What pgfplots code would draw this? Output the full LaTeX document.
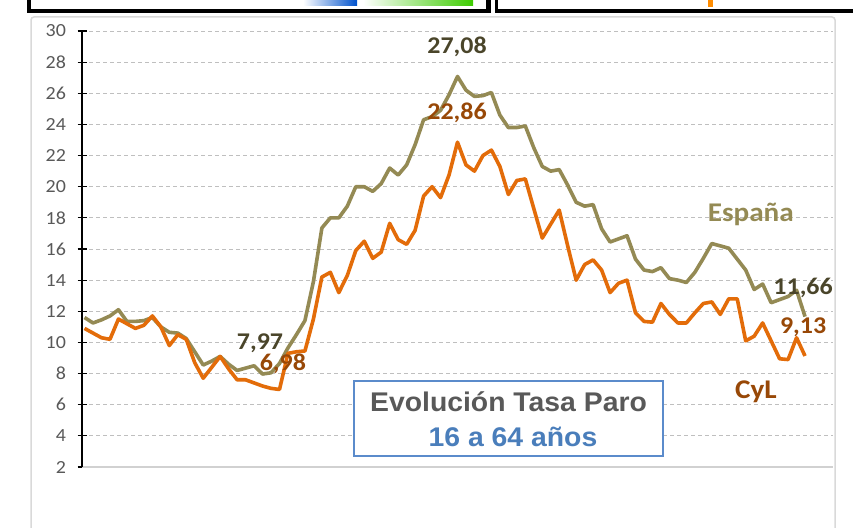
\documentclass[border=0pt]{standalone}
\usepackage{fontspec}
\setmainfont{Carlito}[FakeStretch=1.08]
\newfontfamily\arialf{Liberation Sans}[FakeStretch=1.05]
\usepackage{pgfplots}
\pgfplotsset{compat=1.18}
\definecolor{esp}{HTML}{948A54}
\definecolor{cyl}{HTML}{E36C09}
\definecolor{espdark}{HTML}{4A452A}
\definecolor{cyldark}{HTML}{984807}
\definecolor{ticktxt}{HTML}{595959}
\definecolor{gridc}{HTML}{BFBFBF}
\definecolor{boxblue}{HTML}{5B8BCB}
\definecolor{titleblue}{HTML}{4A7EBB}
\begin{document}
\begin{tikzpicture}[x=1pt,y=1pt]
\useasboundingbox (0,0) rectangle (853,527);
\fill[white] (0,0) rectangle (853,527);
% decorative pieces of neighbouring frames at the top
\shade[left color=white, right color=blue!60!cyan!80!black] (303,521) rectangle (357,527);
\shade[left color=white, right color=green!60!lime!80!black] (363,521) rectangle (473,527);
\fill[orange!90!yellow] (708,520) rectangle (713,527);
\fill[black] (27,514) rectangle (491,517.5);
\fill[black] (27,514) rectangle (30.5,527);
\fill[black] (486,514) rectangle (491,527);
\fill[black] (495,514) rectangle (853,517.5);
\fill[black] (495,514) rectangle (498,527);
% chart frame
\draw[black!15, line width=1.5pt, rounded corners=3pt] (31,-10) rectangle (835,510);
\begin{axis}[
  at={(82pt,60pt)}, anchor=south west, scale only axis,
  width=751pt, height=436pt,
  xmin=-0.3, xmax=88.3, ymin=2, ymax=30,
  ytick={2,4,...,30}, xtick=\empty,
  axis x line*=bottom, axis y line*=left,
  x axis line style={black!18, line width=1.2pt},
  y axis line style={black, line width=1.2pt},
  major tick length=9pt, tick align=center,
  tick style={black, line width=1.2pt},
  ymajorgrids,
  major grid style={dash pattern=on 4pt off 3pt, gridc, line width=0.9pt},
  /pgf/number format/assume math mode=true,
  yticklabel style={font=\fontsize{18.5}{18.5}\selectfont, text=ticktxt, xshift=-8pt},
  clip=false,
]
\addplot[esp, line width=3.6pt, line join=round] coordinates {
(0,11.6)(1,11.25)(2,11.45)(3,11.7)(4,12.1)(5,11.35)(6,11.35)(7,11.4)(8,11.6)(9,11.0)
(10,10.65)(11,10.6)(12,10.25)(13,9.4)(14,8.55)(15,8.8)(16,9.1)(17,8.6)(18,8.2)(19,8.35)
(20,8.5)(21,7.97)(22,8.05)(23,8.65)(24,9.65)(25,10.5)(26,11.4)(27,13.9)(28,17.35)(29,18.0)
(30,18.0)(31,18.75)(32,20.0)(33,20.0)(34,19.7)(35,20.2)(36,21.2)(37,20.75)(38,21.4)(39,22.7)
(40,24.3)(41,24.5)(42,24.9)(43,25.9)(44,27.08)(45,26.2)(46,25.8)(47,25.85)(48,26.05)(49,24.6)
(50,23.8)(51,23.8)(52,23.9)(53,22.5)(54,21.3)(55,21.0)(56,21.1)(57,20.1)(58,19.0)(59,18.75)
(60,18.85)(61,17.3)(62,16.45)(63,16.65)(64,16.85)(65,15.35)(66,14.65)(67,14.55)(68,14.8)(69,14.1)
(70,14.0)(71,13.85)(72,14.5)(73,15.4)(74,16.35)(75,16.2)(76,16.05)(77,15.35)(78,14.65)(79,13.4)
(80,13.75)(81,12.55)(82,12.75)(83,12.95)(84,13.35)(85,11.66)
};
\addplot[cyl, line width=3.6pt, line join=round] coordinates {
(0,10.9)(1,10.6)(2,10.3)(3,10.2)(4,11.5)(5,11.2)(6,10.9)(7,11.1)(8,11.7)(9,11.0)
(10,9.8)(11,10.5)(12,10.2)(13,8.7)(14,7.7)(15,8.4)(16,9.1)(17,8.3)(18,7.6)(19,7.6)
(20,7.4)(21,7.2)(22,7.05)(23,6.98)(24,9.3)(25,9.4)(26,9.45)(27,11.5)(28,14.2)(29,14.5)
(30,13.2)(31,14.3)(32,15.9)(33,16.5)(34,15.4)(35,15.8)(36,17.65)(37,16.6)(38,16.3)(39,17.2)
(40,19.4)(41,20.0)(42,19.3)(43,20.75)(44,22.86)(45,21.4)(46,21.0)(47,22.0)(48,22.35)(49,21.3)
(50,19.5)(51,20.4)(52,20.5)(53,18.6)(54,16.7)(55,17.6)(56,18.5)(57,16.2)(58,14.0)(59,15.0)
(60,15.3)(61,14.65)(62,13.2)(63,13.8)(64,14.0)(65,11.9)(66,11.35)(67,11.3)(68,12.5)(69,11.8)
(70,11.25)(71,11.25)(72,11.9)(73,12.5)(74,12.6)(75,11.8)(76,12.8)(77,12.8)(78,10.1)(79,10.4)
(80,11.25)(81,10.1)(82,8.95)(83,8.9)(84,10.3)(85,9.13)
};
\node[text=espdark, font=\fontsize{24}{24}\selectfont\bfseries] at (axis cs:43.95,28.97) {27,08};
\node[text=cyldark, font=\fontsize{24}{24}\selectfont\bfseries] at (axis cs:43.95,24.73) {22,86};
\node[text=espdark, font=\fontsize{24}{24}\selectfont\bfseries, inner sep=0pt] at (axis cs:20.7,9.95) {7,97};
\node[text=cyldark, font=\fontsize{24}{24}\selectfont\bfseries, inner sep=0pt] at (axis cs:23.4,8.6) {6,98};
\node[text=espdark, font=\fontsize{24}{24}\selectfont\bfseries] at (axis cs:84.77,13.5) {11,66};
\node[text=cyldark, font=\fontsize{24}{24}\selectfont\bfseries] at (axis cs:84.77,10.99) {9,13};
\node[text=esp, font=\fontsize{27}{27}\selectfont\bfseries] at (axis cs:78.6,18.25) {España};
\node[text=cyldark, font=\fontsize{27}{27}\selectfont\bfseries] at (axis cs:79.2,6.82) {CyL};
\end{axis}
\node[draw=boxblue, line width=1.3pt, fill=white, minimum width=309pt, minimum height=75pt, inner sep=0pt] at (508.5,108.5) {};
\node[text=ticktxt, font=\arialf\fontsize{27}{27}\selectfont\bfseries] at (508.5,125) {Evolución Tasa Paro};
\node[text=titleblue, font=\arialf\fontsize{27}{27}\selectfont\bfseries] at (513,90) {16 a 64 años};
\end{tikzpicture}
\end{document}
